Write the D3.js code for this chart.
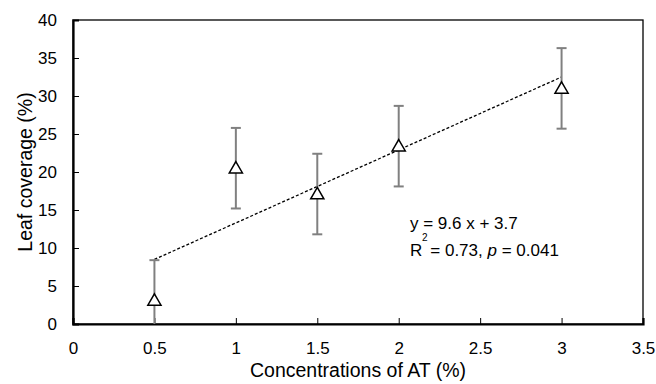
<!DOCTYPE html>
<html>
<head>
<meta charset="utf-8">
<script src="https://cdn.jsdelivr.net/npm/d3@7"></script>
<style>
  body { margin: 0; background: #fff; }
  text { font-family: "Liberation Sans", Arial, sans-serif; fill: #000; }
</style>
</head>
<body>
<div id="wrapper"></div>
<script>
// data
const concentrations = [0.5, 1, 1.5, 2, 3];
const coverage = [3.1, 20.5, 17.1, 23.4, 31.0];
const errUpper = [8.4, 25.8, 22.4, 28.7, 36.3];
const errLower = [-2.2, 15.2, 11.8, 18.1, 25.7];
const xTicks = [0, 0.5, 1, 1.5, 2, 2.5, 3, 3.5];
const yTicks = [0, 5, 10, 15, 20, 25, 30, 35, 40];
const slope = 9.6, intercept = 3.7;

const dimensions = {
  width: 656,
  height: 384,
  margin: { top: 20, right: 13, bottom: 60, left: 73 }
};
dimensions.boundedWidth = dimensions.width - dimensions.margin.left - dimensions.margin.right;
dimensions.boundedHeight = dimensions.height - dimensions.margin.top - dimensions.margin.bottom;

const svg = d3.select("#wrapper").append("svg")
  .attr("width", dimensions.width)
  .attr("height", dimensions.height);

const bounds = svg.append("g")
  .attr("transform", `translate(${dimensions.margin.left},${dimensions.margin.top})`);

const xScale = d3.scaleLinear().domain([0, 3.5]).range([0, dimensions.boundedWidth]);
const yScale = d3.scaleLinear().domain([0, 40]).range([dimensions.boundedHeight, 0]);

// frame
bounds.append("rect")
  .attr("width", dimensions.boundedWidth)
  .attr("height", dimensions.boundedHeight)
  .attr("fill", "none")
  .attr("stroke", "#000")
  .attr("stroke-width", 1.3);

// axes with inside ticks
const xAxis = bounds.append("g")
  .attr("transform", `translate(0,${dimensions.boundedHeight})`)
  .call(d3.axisBottom(xScale).tickValues(xTicks).tickSize(-6).tickPadding(18).tickFormat(d3.format("")));
const yAxis = bounds.append("g")
  .call(d3.axisLeft(yScale).tickValues(yTicks).tickSize(-6).tickPadding(16));

[xAxis, yAxis].forEach(ax => {
  ax.select(".domain").attr("stroke", "#000").attr("stroke-width", 2.2);
  ax.selectAll(".tick line").attr("stroke", "#000").attr("stroke-width", 1);
  ax.selectAll(".tick text").attr("font-size", 17).attr("fill", "#000")
    .attr("font-family", "Liberation Sans, Arial, sans-serif");
});
yAxis.selectAll(".tick text").attr("dy", "0.35em");

// trend line
const lineGenerator = d3.line()
  .x(d => xScale(d))
  .y(d => yScale(slope * d + intercept));
bounds.append("path")
  .attr("d", lineGenerator([d3.min(concentrations), d3.max(concentrations)]))
  .attr("fill", "none")
  .attr("stroke", "#000")
  .attr("stroke-width", 1.3)
  .attr("stroke-dasharray", "3,2");

// error bars
const clip = v => Math.max(0, v);
const bars = bounds.append("g").attr("stroke", "#808080").attr("stroke-width", 2);
concentrations.forEach((c, i) => {
  const x = xScale(c);
  bars.append("line")
    .attr("x1", x).attr("x2", x)
    .attr("y1", yScale(clip(errLower[i]))).attr("y2", yScale(errUpper[i]));
  bars.append("line")
    .attr("x1", x - 5).attr("x2", x + 5)
    .attr("y1", yScale(errUpper[i])).attr("y2", yScale(errUpper[i]));
  if (errLower[i] > 0) {
    bars.append("line")
      .attr("x1", x - 5).attr("x2", x + 5)
      .attr("y1", yScale(errLower[i])).attr("y2", yScale(errLower[i]));
  }
});

// triangle markers
const tri = d3.symbol().type(d3.symbolTriangle).size(75);
bounds.selectAll(".marker")
  .data(concentrations)
  .join("path")
  .attr("class", "marker")
  .attr("d", tri)
  .attr("transform", (d, i) => `translate(${xScale(d)},${yScale(coverage[i]) + 1})`)
  .attr("fill", "#fff")
  .attr("stroke", "#000")
  .attr("stroke-width", 1.5);

// regression annotation
const note = svg.append("g").attr("font-size", 17);
note.append("text").attr("x", 410).attr("y", 229).text("y = 9.6 x + 3.7");
note.append("text").attr("x", 422).attr("y", 241).attr("font-size", 10).text("2");
const r2 = note.append("text").attr("x", 410).attr("y", 256);
r2.append("tspan").text("R");
r2.append("tspan").attr("dx", 8).text("= 0.73, ");
r2.append("tspan").attr("font-style", "italic").text("p");
r2.append("tspan").text(" = 0.041");

// axis titles
svg.append("text")
  .attr("x", dimensions.margin.left + dimensions.boundedWidth / 2)
  .attr("y", 377)
  .attr("text-anchor", "middle")
  .attr("font-size", 19.5)
  .text("Concentrations of AT (%)");

svg.append("text")
  .attr("transform", `translate(32,${dimensions.margin.top + dimensions.boundedHeight / 2}) rotate(-90)`)
  .attr("text-anchor", "middle")
  .attr("font-size", 19.5)
  .text("Leaf coverage (%)");
</script>
</body>
</html>
